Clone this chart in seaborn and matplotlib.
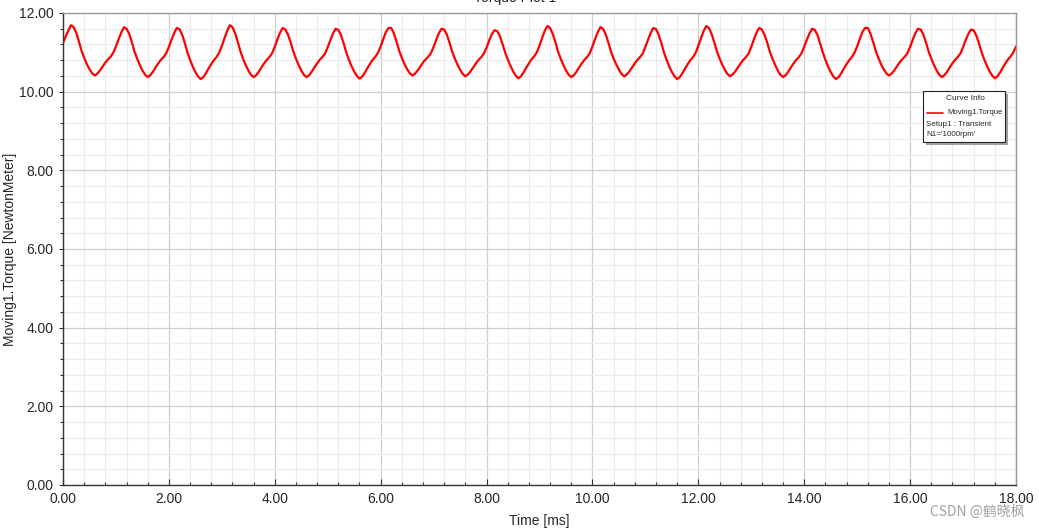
import numpy as np
import matplotlib
matplotlib.use("Agg")
import matplotlib.pyplot as plt
from matplotlib.patches import Rectangle
from matplotlib.lines import Line2D
from matplotlib.ticker import MultipleLocator, FormatStrFormatter
import seaborn as sns

# Moving1.Torque [NewtonMeter], sampled every 0.05 ms from 0 to 18 ms
time_step = 0.05
torque = [
    11.24, 11.40, 11.55, 11.69, 11.64, 11.50, 11.28, 11.04, 10.86, 10.70, 10.57, 10.47, 10.41, 10.46, 10.54, 10.64, 10.74, 10.82, 10.89, 10.99,
    11.15, 11.33, 11.50, 11.64, 11.60, 11.47, 11.26, 11.02, 10.84, 10.68, 10.54, 10.43, 10.37, 10.42, 10.51, 10.62, 10.72, 10.81, 10.88, 10.98,
    11.14, 11.32, 11.49, 11.62, 11.59, 11.45, 11.24, 11.00, 10.81, 10.64, 10.50, 10.39, 10.32, 10.37, 10.47, 10.59, 10.70, 10.80, 10.88, 10.99,
    11.16, 11.36, 11.54, 11.69, 11.64, 11.49, 11.27, 11.03, 10.84, 10.68, 10.54, 10.43, 10.37, 10.42, 10.51, 10.62, 10.72, 10.81, 10.88, 10.98,
    11.14, 11.33, 11.50, 11.62, 11.58, 11.45, 11.25, 11.02, 10.84, 10.68, 10.54, 10.43, 10.37, 10.42, 10.51, 10.62, 10.72, 10.81, 10.88, 10.97,
    11.13, 11.31, 11.48, 11.60, 11.57, 11.44, 11.23, 11.00, 10.81, 10.65, 10.51, 10.40, 10.33, 10.38, 10.48, 10.60, 10.71, 10.81, 10.89, 10.99,
    11.15, 11.34, 11.52, 11.62, 11.62, 11.48, 11.27, 11.04, 10.86, 10.70, 10.57, 10.47, 10.41, 10.46, 10.54, 10.64, 10.74, 10.82, 10.89, 10.98,
    11.14, 11.32, 11.49, 11.60, 11.58, 11.45, 11.25, 11.02, 10.84, 10.69, 10.56, 10.45, 10.39, 10.44, 10.52, 10.62, 10.72, 10.81, 10.88, 10.97,
    11.12, 11.30, 11.46, 11.56, 11.54, 11.42, 11.22, 11.00, 10.82, 10.66, 10.52, 10.41, 10.34, 10.39, 10.49, 10.61, 10.72, 10.82, 10.90, 11.00,
    11.17, 11.37, 11.55, 11.67, 11.62, 11.47, 11.26, 11.02, 10.84, 10.68, 10.54, 10.43, 10.37, 10.42, 10.51, 10.62, 10.72, 10.81, 10.88, 10.98,
    11.15, 11.34, 11.51, 11.64, 11.60, 11.46, 11.25, 11.02, 10.84, 10.69, 10.56, 10.45, 10.39, 10.44, 10.52, 10.62, 10.72, 10.81, 10.88, 10.97,
    11.14, 11.32, 11.49, 11.62, 11.59, 11.45, 11.24, 11.00, 10.81, 10.64, 10.50, 10.39, 10.32, 10.37, 10.47, 10.59, 10.70, 10.80, 10.88, 10.99,
    11.17, 11.36, 11.54, 11.67, 11.62, 11.47, 11.26, 11.03, 10.85, 10.69, 10.56, 10.45, 10.39, 10.44, 10.52, 10.62, 10.72, 10.81, 10.88, 10.97,
    11.14, 11.33, 11.50, 11.62, 11.58, 11.45, 11.25, 11.02, 10.84, 10.68, 10.54, 10.43, 10.37, 10.42, 10.51, 10.62, 10.72, 10.81, 10.88, 10.98,
    11.14, 11.32, 11.48, 11.60, 11.57, 11.44, 11.23, 11.00, 10.81, 10.64, 10.50, 10.39, 10.32, 10.37, 10.47, 10.59, 10.70, 10.80, 10.88, 10.99,
    11.15, 11.34, 11.52, 11.62, 11.62, 11.48, 11.27, 11.04, 10.86, 10.70, 10.57, 10.47, 10.41, 10.46, 10.54, 10.64, 10.74, 10.82, 10.89, 10.98,
    11.14, 11.32, 11.49, 11.60, 11.58, 11.45, 11.25, 11.02, 10.84, 10.68, 10.54, 10.43, 10.37, 10.42, 10.51, 10.62, 10.72, 10.81, 10.88, 10.97,
    11.13, 11.31, 11.47, 11.58, 11.56, 11.43, 11.23, 11.00, 10.82, 10.66, 10.52, 10.41, 10.34, 10.39, 10.49, 10.61, 10.72, 10.82, 10.90, 11.00,
    11.15,
]
time_ms = np.arange(len(torque)) * time_step

curve_name = "Moving1.Torque"
curve_info = ["Setup1 : Transient", "N1='1000rpm'"]

sns.set_style("white")
plt.rcParams['font.family'] = ['Liberation Sans', 'DejaVu Sans']

fig = plt.figure(figsize=(10.39, 5.29), dpi=100)
ax = fig.add_axes([63 / 1039, 1 - 485 / 529, 953 / 1039, 472 / 529])

sns.lineplot(x=time_ms, y=torque, ax=ax, color='#ff0000', linewidth=1.6, legend=False)

ax.set_xlim(0, 18)
ax.set_ylim(0, 12)
ax.xaxis.set_major_locator(MultipleLocator(2))
ax.xaxis.set_minor_locator(MultipleLocator(0.4))
ax.yaxis.set_major_locator(MultipleLocator(2))
ax.yaxis.set_minor_locator(MultipleLocator(0.4))
ax.xaxis.set_major_formatter(FormatStrFormatter('%.2f'))
ax.yaxis.set_major_formatter(FormatStrFormatter('%.2f'))

ax.grid(True, which='major', color='#cfcfcf', linewidth=0.9)
ax.grid(True, which='minor', color='#ebebeb', linewidth=0.8)
ax.set_axisbelow(True)

ax.tick_params(axis='x', which='major', direction='in', length=4, width=0.8,
               color='#333333', labelsize=10, pad=5, bottom=True)
ax.tick_params(axis='x', which='minor', direction='in', length=2.5, width=0.8,
               color='#333333', bottom=True)
ax.tick_params(axis='y', which='major', direction='out', length=3, width=0.8,
               color='#333333', labelsize=10, pad=4, left=True)
ax.tick_params(axis='y', which='minor', direction='out', length=2, width=0.8,
               color='#333333', left=True)

for side in ['left', 'bottom']:
    ax.spines[side].set_color('#333333')
    ax.spines[side].set_linewidth(1.0)
for side in ['top', 'right']:
    ax.spines[side].set_color('#9a9a9a')
    ax.spines[side].set_linewidth(1.0)

ax.set_xlabel("Time [ms]", fontsize=10, labelpad=6)
ax.set_ylabel("Moving1.Torque [NewtonMeter]", fontsize=10)
ax.yaxis.set_label_coords(-46 / 953, 0.5)

# plot title, cut by the top edge as in the source screenshot
fig.text(515 / 1039, 1 + 2 / 529, "Torque Plot 1", ha='center', va='center', fontsize=10, color='#222222')

# "Curve Info" box
def ax_xy(px, py):
    return (px - 63) / 953, (485 - py) / 472

x0, y0 = ax_xy(923, 142)
x1, y1 = ax_xy(1005, 91)
sx, sy = 3 / 953, 3 / 472
ax.add_patch(Rectangle((x0 + sx, y0 - sy), x1 - x0, y1 - y0, transform=ax.transAxes,
                       facecolor='#a0a0a0', edgecolor='none', zorder=5, clip_on=False))
ax.add_patch(Rectangle((x0, y0), x1 - x0, y1 - y0, transform=ax.transAxes,
                       facecolor='white', edgecolor='#222222', linewidth=0.8, zorder=6, clip_on=False))
tx, ty = ax_xy(965, 99)
ax.text(tx, ty, "Curve Info", transform=ax.transAxes, ha='center', va='center', fontsize=6, zorder=7)
lx0, ly = ax_xy(927, 113)
lx1, _ = ax_xy(943, 113)
ax.add_line(Line2D([lx0, lx1], [ly, ly], transform=ax.transAxes, color='#ff0000', linewidth=1.2, zorder=7))
nx, _ = ax_xy(1003, 113)
ax.text(nx, ly, curve_name, transform=ax.transAxes, ha='right', va='center', fontsize=5.6, zorder=7)
for i, line in enumerate(curve_info):
    ix, iy = ax_xy(926, 124 + i * 11)
    ax.text(ix, iy, line, transform=ax.transAxes, ha='left', va='center', fontsize=5.8, zorder=7)

# watermark
fig.text(1024 / 1039, 1 - 512 / 529, "CSDN @鹤晓枫", ha='right', va='center', fontsize=10,
         color='#a0a0a0', family=['Noto Sans CJK SC', 'DejaVu Sans'])

fig.savefig("out.png", dpi=100)
